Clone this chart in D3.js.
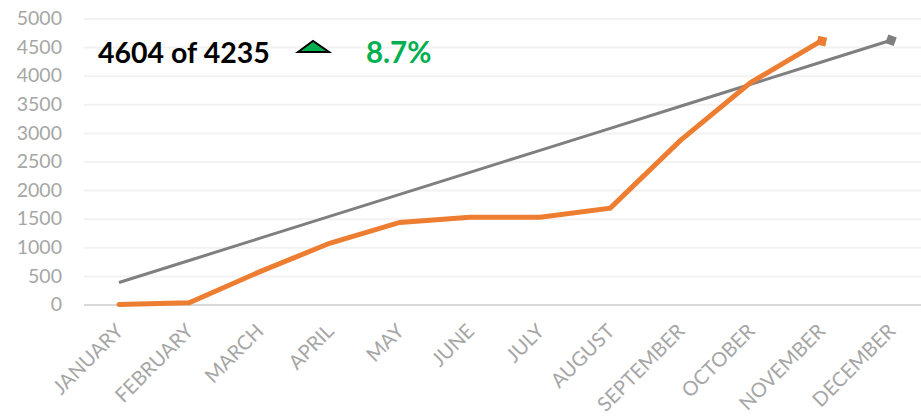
<!DOCTYPE html>
<html><head><meta charset="utf-8">
<script src="https://cdn.jsdelivr.net/npm/d3@7"></script>
<style>html,body{margin:0;padding:0;background:#fff;overflow:hidden}svg{display:block}
.tick text{font-family:Lato,sans-serif;fill:#a6a6a6}</style></head><body>
<svg id="c" width="921" height="418"></svg>
<script>
const months=["JANUARY","FEBRUARY","MARCH","APRIL","MAY","JUNE","JULY","AUGUST","SEPTEMBER","OCTOBER","NOVEMBER","DECEMBER"];
const actual=[0,30,570,1070,1435,1525,1525,1685,2870,3880,4604];
const target=[385,770,1155,1540,1925,2310,2695,3080,3465,3850,4235,4620];
const yTicks=[0,500,1000,1500,2000,2500,3000,3500,4000,4500,5000];
const svg=d3.select("#c");
const x=d3.scalePoint().domain(months).range([119,891]);
const y=d3.scaleLinear().domain([0,5000]).range([304.5,18.5]);
const gy=svg.append("g").attr("transform","translate(84,0)")
 .call(d3.axisLeft(y).tickValues(yTicks).tickSize(0).tickPadding(22).tickFormat(d3.format("d")));
gy.select(".domain").remove();
gy.selectAll("text").style("font-size","19.5px");
gy.selectAll("line").attr("x2",837).attr("stroke",d=>d===0?"#d9d9d9":"#f2f2f2").attr("stroke-width",2);
const gx=svg.append("g").attr("transform","translate(0,304.5)")
 .call(d3.axisBottom(x).tickSize(0).tickPadding(0));
gx.select(".domain").remove();
gx.selectAll("text").attr("text-anchor","end").attr("dy",0)
 .attr("transform","translate(5,28) rotate(-45)").style("font-size","20px");
const line=d3.line().x((d,i)=>x(months[i])).y(d=>y(d));
svg.append("path").attr("d",line(target)).attr("fill","none").attr("stroke","#7f7f7f").attr("stroke-width",3);
svg.append("path").attr("d",line(actual)).attr("fill","none").attr("stroke","#ed7d31").attr("stroke-width",5).attr("stroke-linecap","round");
const sym=d3.symbol().type(d3.symbolSquare).size(80);
svg.append("path").attr("d",sym()).attr("fill","#7f7f7f").attr("transform",`translate(${x("DECEMBER")},${y(4620)}) rotate(20)`);
svg.append("path").attr("d",sym()).attr("fill","#ed7d31").attr("transform",`translate(${x("NOVEMBER")+1},${y(4604)}) rotate(12)`);
svg.append("text").attr("x",98).attr("y",63).text("4604 of 4235").style("font","700 28.5px Lato,sans-serif").attr("fill","#000");
svg.append("path").attr("d",d3.line()([[298,52],[313,41],[329,52]])+"Z").attr("fill","#00b050").attr("stroke","#000").attr("stroke-width",2);
svg.append("text").attr("x",366).attr("y",63).text("8.7%").style("font","700 29.5px Lato,sans-serif").attr("fill","#00b050");
</script></body></html>
